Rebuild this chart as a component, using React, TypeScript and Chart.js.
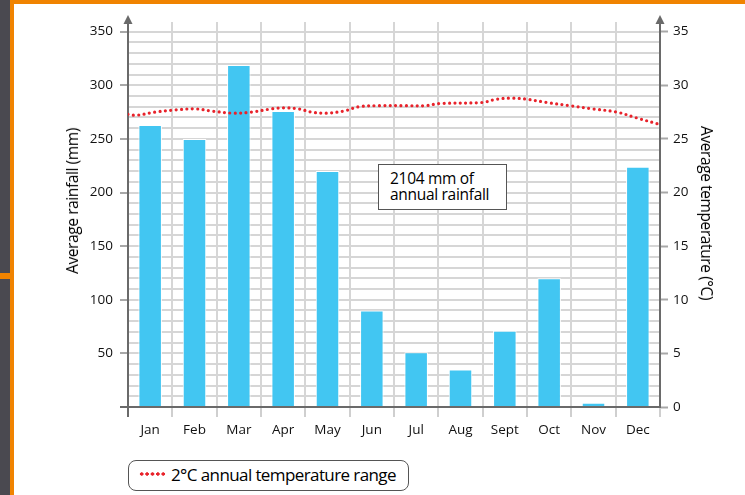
import React, { useEffect, useRef } from "react";
import { Chart, registerables } from "chart.js";

Chart.register(...registerables);

// ---- data ----
const months = ["Jan", "Feb", "Mar", "Apr", "May", "Jun", "Jul", "Aug", "Sept", "Oct", "Nov", "Dec"];
const rainfall = [263, 250, 319, 276, 220, 90, 51, 35, 71, 120, 4, 224];
// temperature curve: positions in month-index units (-0.5 = left edge, 11.5 = right edge)
const tempPositions = [-0.5, -0.32, 0.11, 0.56, 1.02, 1.38, 1.88, 2.28, 2.74, 3.01, 3.35, 3.64, 3.96, 4.37, 4.71, 5.16, 5.77, 6.22, 6.52, 7.5, 7.81, 8.17, 8.49, 8.94, 9.46, 9.98, 10.53, 10.98, 11.45];
const tempValues = [27.3, 27.2, 27.5, 27.7, 27.8, 27.6, 27.4, 27.5, 27.8, 27.9, 27.8, 27.5, 27.4, 27.6, 28.0, 28.1, 28.1, 28.1, 28.3, 28.4, 28.7, 28.8, 28.7, 28.4, 28.1, 27.8, 27.5, 26.95, 26.4];
const rainMax = 359;
const tempMax = 35.9;
const rainLabelStep = 50;
const tempStep = 5;

const leftAxisTitle = "Average rainfall (mm)";
const rightAxisTitle = "Average temperature (°C)";
const annotationLines = ["2104 mm of", "annual rainfall"];
const legendLabel = "2°C annual temperature range";

const W = 745;
const H = 495;
const FONT = "'Open Sans', 'DejaVu Sans', sans-serif";
const AXIS = "#6a6a6a";
const GRID = "#d6d6d6";
const BAR = "#42c6f2";
const RED = "#e8232b";
const TEXT = "#111";

const arrowPlugin = {
  id: "arrows",
  afterDraw(chart: any) {
    const { ctx, chartArea } = chart;
    ctx.save();
    ctx.fillStyle = AXIS;
    [chartArea.left, chartArea.right].forEach((x: number) => {
      ctx.beginPath();
      ctx.moveTo(x, chartArea.top - 7);
      ctx.lineTo(x - 4.5, chartArea.top + 2);
      ctx.lineTo(x + 4.5, chartArea.top + 2);
      ctx.closePath();
      ctx.fill();
    });
    ctx.restore();
  },
};

export default function App() {
  const ref = useRef<HTMLCanvasElement | null>(null);

  useEffect(() => {
    if (!ref.current) return;
    const chart = new Chart(ref.current, {
      type: "bar",
      data: {
        labels: months,
        datasets: [
          {
            type: "line",
            label: legendLabel,
            data: tempPositions.map((p, i) => ({ x: p, y: tempValues[i] })),
            xAxisID: "xt",
            yAxisID: "y2",
            borderColor: RED,
            borderWidth: 3.2,
            borderDash: [0, 5.4],
            borderCapStyle: "round",
            pointRadius: 0,
            tension: 0.35,
            fill: false,
          } as any,
          {
            type: "bar",
            label: "Rainfall",
            data: rainfall,
            xAxisID: "x",
            yAxisID: "y",
            backgroundColor: BAR,
            borderColor: "#ffffff",
            borderWidth: 1,
            borderSkipped: "bottom",
            grouped: false,
            barPercentage: 0.53,
            categoryPercentage: 1,
          } as any,
        ],
      },
      options: {
        responsive: false,
        animation: false,
        layout: { padding: { top: 22, left: 0, right: 0, bottom: 0 } },
        plugins: { legend: { display: false }, tooltip: { enabled: false } },
        scales: {
          x: {
            type: "category",
            position: "bottom",
            offset: true,
            afterFit: (s: any) => { s.height = H - 407; },
            grid: {
              offset: true,
              color: GRID,
              lineWidth: 2,
              tickLength: 10,
              tickWidth: 2,
              tickColor: (c: any) => (c.index === 0 ? AXIS : "#cfcfcf"),
            },
            border: { color: AXIS, width: 2 },
            ticks: { color: TEXT, font: { family: FONT, size: 13.5 }, padding: 5, maxRotation: 0, autoSkip: false },
          },
          xt: {
            type: "linear",
            display: false,
            offset: false,
            min: -0.5,
            max: 11.5,
          },
          y: {
            type: "linear",
            position: "left",
            min: 0,
            max: rainMax,
            afterFit: (s: any) => { s.width = 128; },
            ticks: {
              stepSize: 10,
              includeBounds: false,
              autoSkip: false,
              color: TEXT,
              font: { family: FONT, size: 13.5 },
              padding: 7,
              callback: (v: any) => (v > 0 && v % rainLabelStep === 0 ? String(v) : ""),
            },
            grid: {
              color: GRID,
              lineWidth: 2,
              tickLength: 8,
              tickWidth: 2,
              tickColor: (c: any) => (c.tick && c.tick.value % rainLabelStep === 0 ? (c.tick.value === 0 ? AXIS : "#a8a8a8") : "transparent"),
            },
            border: { color: AXIS, width: 2 },
          },
          y2: {
            type: "linear",
            position: "right",
            min: 0,
            max: tempMax,
            afterFit: (s: any) => { s.width = W - 660; },
            ticks: {
              stepSize: tempStep,
              includeBounds: false,
              autoSkip: false,
              color: TEXT,
              font: { family: FONT, size: 13.5 },
              padding: 5,
            },
            grid: {
              drawOnChartArea: false,
              tickLength: 8,
              tickWidth: 2,
              tickColor: "#a8a8a8",
            },
            border: { color: AXIS, width: 2 },
          },
        },
      } as any,
      plugins: [arrowPlugin],
    });
    return () => chart.destroy();
  }, []);

  return (
    <div style={{ position: "fixed", left: 0, top: 0, width: W, height: H, background: "#fff", overflow: "hidden", fontFamily: FONT, color: TEXT }}>
      <canvas ref={ref} width={W} height={H} style={{ position: "absolute", left: 0, top: 0, width: W, height: H }} />
      {/* frame decoration */}
      <div style={{ position: "absolute", left: 0, top: 0, width: W, height: 4, background: "#f08300" }} />
      <div style={{ position: "absolute", left: 0, top: 0, width: 10, height: H, background: "#4a4950" }} />
      <div style={{ position: "absolute", left: 10, top: 0, width: 4, height: H, background: "#f08300" }} />
      <div style={{ position: "absolute", left: 0, top: 273, width: 10, height: 6, background: "#f08300" }} />
      {/* axis titles */}
      <div style={{ position: "absolute", left: 72, top: 201, transform: "translate(-50%, -50%) rotate(-90deg)", whiteSpace: "nowrap", fontSize: 15.5, letterSpacing: -0.4, color: "#000" }}>{leftAxisTitle}</div>
      <div style={{ position: "absolute", left: 707, top: 213, transform: "translate(-50%, -50%) rotate(90deg)", whiteSpace: "nowrap", fontSize: 15.5, letterSpacing: -0.4, color: "#000" }}>{rightAxisTitle}</div>
      {/* annotation */}
      <div style={{ position: "absolute", left: 378, top: 164, width: 129, height: 46, boxSizing: "border-box", border: "1.5px solid #555", background: "#fff", padding: "5px 0 0 11px", fontSize: 15.5, lineHeight: "16px", letterSpacing: -0.3, color: "#000" }}>
        {annotationLines.map((l, i) => <div key={i}>{l}</div>)}
      </div>
      {/* legend */}
      <div style={{ position: "absolute", left: 128, top: 460, width: 281, height: 31, boxSizing: "border-box", border: "1.5px solid #555", borderRadius: 8, background: "#fff" }}>
        <div style={{ position: "absolute", left: 10, top: 11, width: 27, height: 4, background: `radial-gradient(circle, ${RED} 1.5px, transparent 1.8px) 0 0 / 5.4px 4px repeat-x` }} />
        <div style={{ position: "absolute", left: 42, top: 2, fontSize: 17, lineHeight: "24px", letterSpacing: -0.6, whiteSpace: "nowrap", color: "#000" }}>{legendLabel}</div>
      </div>
    </div>
  );
}
